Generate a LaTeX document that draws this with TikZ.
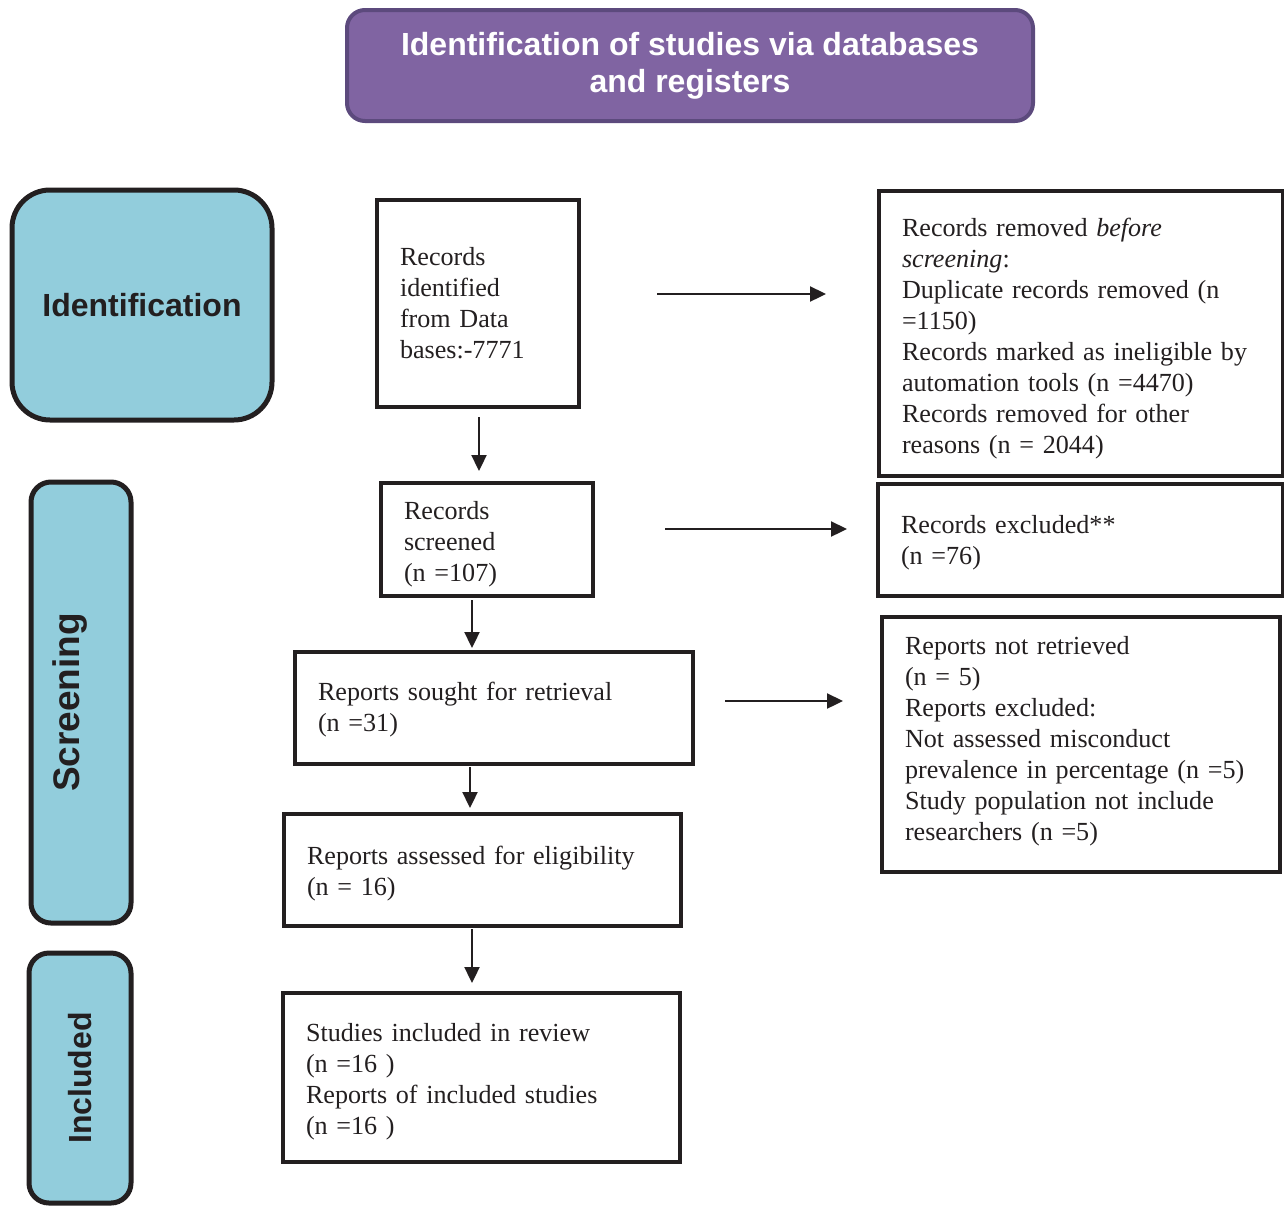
\documentclass[tikz,border=0pt]{standalone}
\usepackage{fontspec}
\setmainfont{Liberation Serif}
\newfontfamily\headfont{Liberation Sans}
\usetikzlibrary{arrows.meta,calc}
\definecolor{titlefill}{HTML}{8064A2}
\definecolor{titleline}{HTML}{5C4A7D}
\definecolor{phasefill}{HTML}{92CDDC}
\definecolor{inkblack}{HTML}{231F20}
\newcommand\flowtopstrut[1]{\rule{0pt}{#1}}
\newcommand\flowbotstrut[1]{\rule[-#1]{0pt}{0pt}}
\begin{document}
\begin{tikzpicture}[x=1pt,y=-1pt,
  flowbox/.style={draw=inkblack,line width=4pt,rectangle,align=left,
    inner xsep=23pt,inner ysep=0pt,text=inkblack,
    font=\fontsize{26.1}{31}\selectfont},
  ttop/.style={execute at begin node={\flowtopstrut{#1}}},
  tbot/.style={execute at end node={\flowbotstrut{#1}}},
  phasebox/.style={draw=inkblack,line width=5pt,fill=phasefill,rectangle,
    inner sep=0pt,text=inkblack,font=\headfont\bfseries\fontsize{32}{37}\selectfont},
  titlebox/.style={draw=titleline,line width=4pt,fill=titlefill,rectangle,
    rounded corners=18pt,inner sep=0pt,align=center,text=white,
    font=\headfont\bfseries\fontsize{32}{37}\selectfont},
  conn/.style={draw=inkblack,line width=2.3pt,-{Triangle[length=16pt,width=15pt]}}
]
\useasboundingbox (0,0) rectangle (1284,1205);

% title
\node[titlebox,ttop=27.3pt,minimum width=686pt,minimum height=111pt] (title) at (690,65.5)
  {Identification of studies via databases\\and registers};

% phase boxes
\node[phasebox,rounded corners=38pt,minimum width=260pt,minimum height=230pt]
  (ident) at (142,305) {Identification};
\node[phasebox,rounded corners=20pt,minimum width=100pt,minimum height=441pt]
  (screen) at (81,702.5) {};
\node[rotate=90,inner sep=0pt,text=inkblack,
  font=\headfont\bfseries\fontsize{37}{44}\selectfont] (screenlabel) at (70,702.5) {Screening};
\node[phasebox,rounded corners=20pt,rotate=90,minimum width=250pt,minimum height=102pt]
  (incl) at (80,1078) {Included};

% flow boxes (left column)
\node[flowbox,text width=156pt,minimum height=207pt] (rec1) at (478,303.5)
  {Records\\identified\\from Data\\bases:-7771};
\node[flowbox,ttop=27.8pt,text width=166pt,minimum height=113pt] (screened) at (487,539.5)
  {Records\\screened\\(n =107)};
\node[flowbox,ttop=21.8pt,text width=352pt,minimum height=112pt] (sought) at (494,708)
  {Reports sought for retrieval\\(n =31)};
\node[flowbox,ttop=25.8pt,text width=351pt,minimum height=112pt] (assessed) at (482.5,870)
  {Reports assessed for eligibility\\(n = 16)};
\node[flowbox,ttop=25.8pt,text width=351pt,minimum height=169pt] (included) at (481.5,1077.5)
  {Studies included in review\\(n =16 )\\Reports of included studies\\(n =16 )};

% flow boxes (right column)
\node[flowbox,ttop=27.8pt,text width=358pt,minimum height=285pt] (removed) at (1081,333.5)
  {Records removed \textit{before}\\\textit{screening}:\\Duplicate records removed (n\\=1150)\\Records marked as ineligible by\\automation tools (n =4470)\\Records removed for other\\reasons (n = 2044)};
\node[flowbox,ttop=23.8pt,text width=359pt,minimum height=112pt] (excluded) at (1080.5,540)
  {Records excluded**\\(n =76)};
\node[flowbox,tbot=12.6pt,text width=352pt,minimum height=255pt] (notret) at (1081,744.5)
  {Reports not retrieved\\(n = 5)\\Reports excluded:\\Not assessed misconduct\\prevalence in percentage (n =5)\\Study population not include\\researchers (n =5)};

% vertical connectors
\draw[conn,shorten <=8pt,shorten >=10pt] ([xshift=1pt]rec1.south) -- ([xshift=1pt]rec1.south |- screened.north);
\draw[conn,shorten <=2pt,shorten >=2pt] ([xshift=-15pt]screened.south) -- ([xshift=-15pt]screened.south |- sought.north);
\draw[conn,shorten <=1pt,shorten >=4pt] ([xshift=-24pt]sought.south) -- ([xshift=-24pt]sought.south |- assessed.north);
\draw[conn,shorten <=1pt,shorten >=8pt] ([xshift=-10.5pt]assessed.south) -- ([xshift=-10.5pt]assessed.south |- included.north);

% horizontal connectors (free ends)
\coordinate (a1s) at (657,294);
\coordinate (a1e) at (826,294);
\coordinate (a2s) at (665,529);
\coordinate (a2e) at (847,529);
\coordinate (a3s) at (725,701);
\coordinate (a3e) at (843,701);
\draw[conn] (a1s) -- (a1e);
\draw[conn] (a2s) -- (a2e);
\draw[conn] (a3s) -- (a3e);
\end{tikzpicture}
\end{document}
